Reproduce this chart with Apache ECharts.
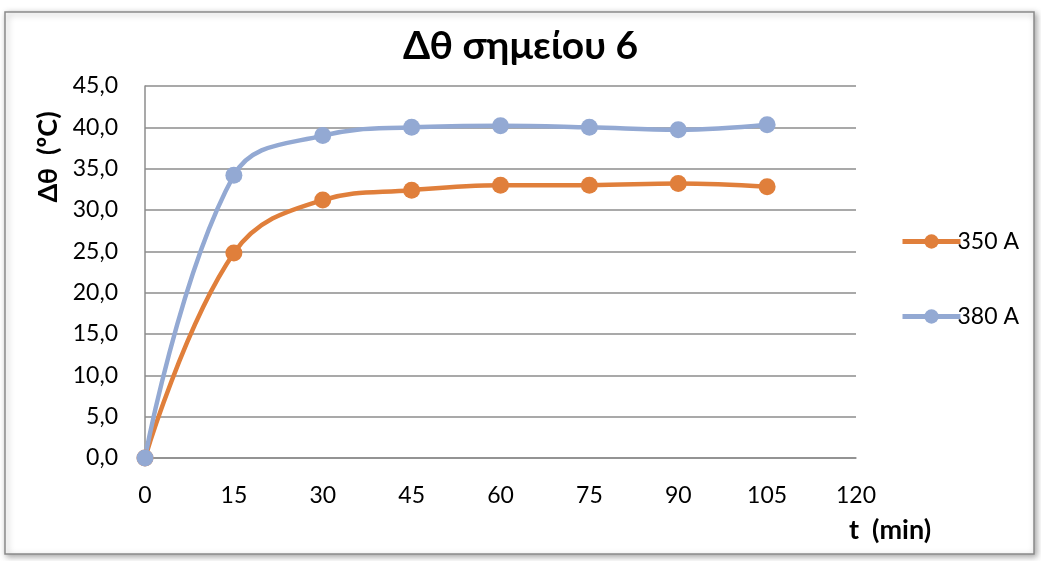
<!DOCTYPE html>
<html>
<head>
<meta charset="utf-8">
<script src="https://cdn.jsdelivr.net/npm/echarts@6/dist/echarts.min.js"></script>
<style>
  html, body { margin: 0; padding: 0; background: #fff; }
  #chart { width: 1041px; height: 561px; }
</style>
</head>
<body>
<div id="chart"></div>
<script>
// time (min)
const times = [0, 15, 30, 45, 60, 75, 90, 105];
// Δθ values (°C)
const values350 = [0, 24.8, 31.2, 32.4, 33.0, 33.0, 33.2, 32.8];
const values380 = [0, 34.2, 39.0, 40.0, 40.2, 40.0, 39.7, 40.3];
const seriesNames = ['350 A', '380 A'];

const font = 'Lato, "Open Sans", sans-serif';
const gridColor = '#8c8c8c';

const chart = echarts.init(document.getElementById('chart'));

function makeSeries(name, values, color) {
  return {
    name: name,
    type: 'line',
    smooth: 0.4,
    symbol: 'circle',
    symbolSize: 17,
    lineStyle: { width: 4.5, color: color },
    itemStyle: { color: color },
    data: times.map((t, i) => [t, values[i]])
  };
}

const option = {
  backgroundColor: '#fff',
  animation: false,
  title: {
    text: 'Δθ σημείου 6',
    left: 'center',
    top: 22,
    textStyle: { fontFamily: font, fontSize: 39, fontWeight: 'bold', color: '#000' }
  },
  legend: {
    orient: 'vertical',
    left: 895,
    top: 225,
    itemGap: 52,
    itemWidth: 58,
    itemHeight: 18,
    data: seriesNames,
    lineStyle: { width: 5 },
    textStyle: { fontFamily: font, fontSize: 23, color: '#000', padding: [0, 0, 0, -8] }
  },
  grid: {
    left: 145,
    right: 185,
    top: 86,
    bottom: 103
  },
  xAxis: {
    type: 'value',
    min: 0,
    max: 120,
    interval: 15,
    axisLine: { show: true, lineStyle: { color: gridColor, width: 1.5 } },
    axisTick: { show: false },
    splitLine: { show: false },
    axisLabel: { fontFamily: font, fontSize: 23, color: '#000', margin: 26 }
  },
  yAxis: {
    type: 'value',
    min: 0,
    max: 45,
    interval: 5,
    axisLine: { show: true, lineStyle: { color: gridColor, width: 1.5 } },
    axisTick: { show: false },
    splitLine: { show: true, lineStyle: { color: gridColor, width: 1.5 } },
    axisLabel: {
      fontFamily: font, fontSize: 23, color: '#000', margin: 27,
      formatter: v => v.toFixed(1).replace('.', ',')
    }
  },
  graphic: [
    {
      type: 'rect',
      silent: true,
      z: -10,
      shape: { x: 5, y: 12, width: 1029, height: 542 },
      style: {
        fill: '#fff',
        stroke: '#8a8a8a',
        lineWidth: 1.5,
        shadowBlur: 6,
        shadowOffsetX: 2,
        shadowOffsetY: 2,
        shadowColor: 'rgba(0,0,0,0.35)'
      }
    },
    {
      type: 'text',
      x: 48,
      y: 157,
      rotation: Math.PI / 2,
      style: {
        text: 'Δθ  (ºC)',
        fontFamily: font,
        fontSize: 27,
        fontWeight: 'bold',
        fill: '#000',
        align: 'center',
        verticalAlign: 'middle'
      }
    },
    {
      type: 'text',
      x: 890,
      y: 530,
      style: {
        text: 't  (min)',
        fontFamily: font,
        fontSize: 27,
        fontWeight: 'bold',
        fill: '#000',
        align: 'center',
        verticalAlign: 'middle'
      }
    }
  ],
  series: [
    makeSeries(seriesNames[0], values350, '#e07f3b'),
    makeSeries(seriesNames[1], values380, '#93a9d3')
  ]
};

chart.setOption(option);
</script>
</body>
</html>
